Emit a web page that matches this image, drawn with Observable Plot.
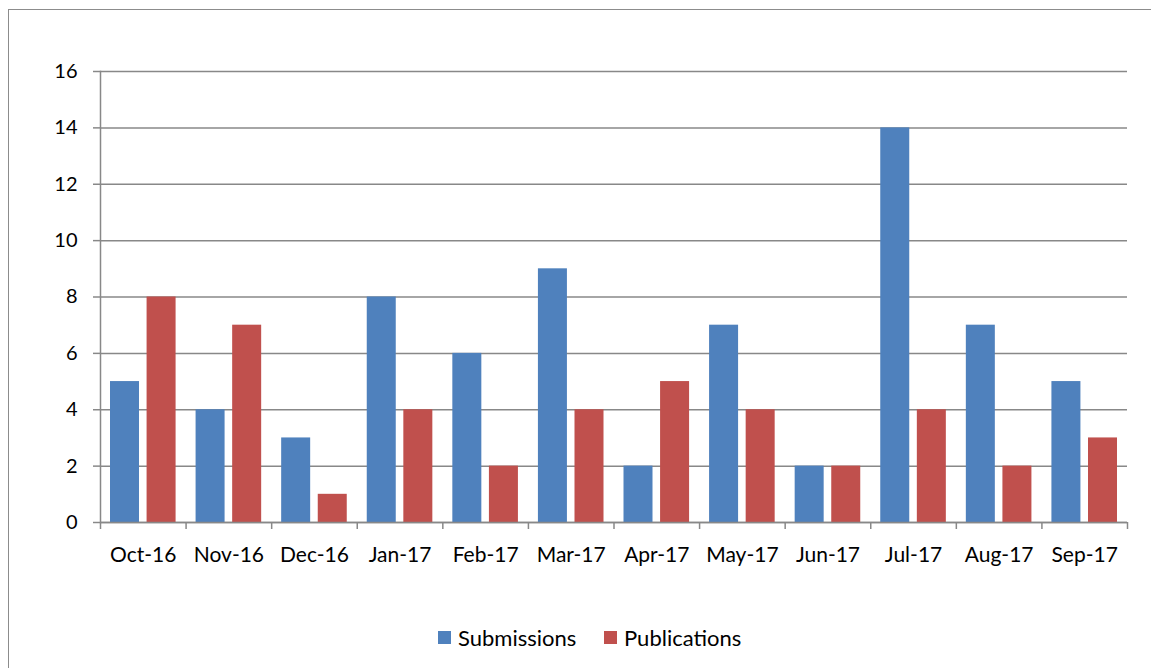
<!DOCTYPE html>
<html><head><meta charset="utf-8">
<script src="https://cdn.jsdelivr.net/npm/d3@7"></script>
<script src="https://cdn.jsdelivr.net/npm/@observablehq/plot@0.6"></script>
<style>
html,body{margin:0;padding:0;background:#fff;overflow:hidden;}
#wrap{position:relative;width:1151px;height:668px;font-family:Lato,"Open Sans",sans-serif;}
#frame{position:absolute;left:8px;top:9px;width:1200px;height:700px;border:1.5px solid #8c8c8c;box-sizing:border-box;}
#chart{position:absolute;left:0;top:0;}
#legend{position:absolute;left:0;top:600px;width:1151px;height:68px;font-size:22px;color:#000;}
.item{position:absolute;top:24px;display:flex;align-items:center;}
.sw{width:13px;height:13px;margin-right:7px;}
</style></head>
<body><div id="wrap"><div id="frame"></div><div id="chart"></div><div id="legend"></div></div>
<script>
const months = ["Oct-16","Nov-16","Dec-16","Jan-17","Feb-17","Mar-17","Apr-17","May-17","Jun-17","Jul-17","Aug-17","Sep-17"];
const submissions = [5,4,3,8,6,9,2,7,2,14,7,5];
const publications = [8,7,1,4,2,4,5,4,2,4,2,3];
const seriesNames = ["Submissions","Publications"];
const seriesColors = ["#4F81BD","#C0504D"];
const yTicks = [0,2,4,6,8,10,12,14,16];

const W = 1151, H = 600, mL = 100, mR = 24, mT = 71, mB = 78;
const bw = (W - mL - mR) / months.length;
const barW = 29, outer = 10;
const data = months.map((m,i)=>({month:m, sub:submissions[i], pub:publications[i]}));

const plot = Plot.plot({
  width: W, height: H,
  marginLeft: mL, marginRight: mR, marginTop: mT, marginBottom: mB,
  style: {fontFamily: "Lato, 'Open Sans', sans-serif", fontSize: "20px", color: "#000", background: "transparent"},
  x: {domain: months, padding: 0, round: false},
  y: {domain: [0,16], ticks: yTicks},
  marks: [
    Plot.gridY(yTicks, {stroke: "#888", strokeOpacity: 1, strokeWidth: 1.5}),
    Plot.axisY(yTicks, {tickSize: 7, tickPadding: 16, stroke: "#888", strokeWidth: 1.5, fontSize: 20, label: null, tickFormat: d=>d}),
    Plot.barY(data, {x: "month", y: "sub", fill: seriesColors[0], insetLeft: outer, insetRight: bw - outer - barW}),
    Plot.barY(data, {x: "month", y: "pub", fill: seriesColors[1], insetLeft: bw - outer - barW, insetRight: outer}),
    Plot.frame({anchor: "left", stroke: "#888", strokeWidth: 1.5}),
    Plot.ruleY([0], {stroke: "#888", strokeWidth: 1.5}),
    Plot.ruleX(months, {x: d=>d, y1: 0, y2: 0, dx: -bw/2, insetBottom: -7, stroke: "#888", strokeWidth: 1.5}),
    Plot.ruleX(months.slice(-1), {x: d=>d, y1: 0, y2: 0, dx: bw/2, insetBottom: -7, stroke: "#888", strokeWidth: 1.5}),
    Plot.axisX({tickSize: 0, tickPadding: 25, fontSize: 21, label: null})
  ]
});
document.getElementById("chart").append(plot);

const legend = document.getElementById("legend");
const lefts = [438, 604];
seriesNames.forEach((n,i)=>{
  const it = document.createElement("div");
  it.className = "item";
  it.style.left = lefts[i] + "px";
  it.innerHTML = `<div class="sw" style="background:${seriesColors[i]}"></div><span>${n}</span>`;
  legend.append(it);
});
</script></body></html>
